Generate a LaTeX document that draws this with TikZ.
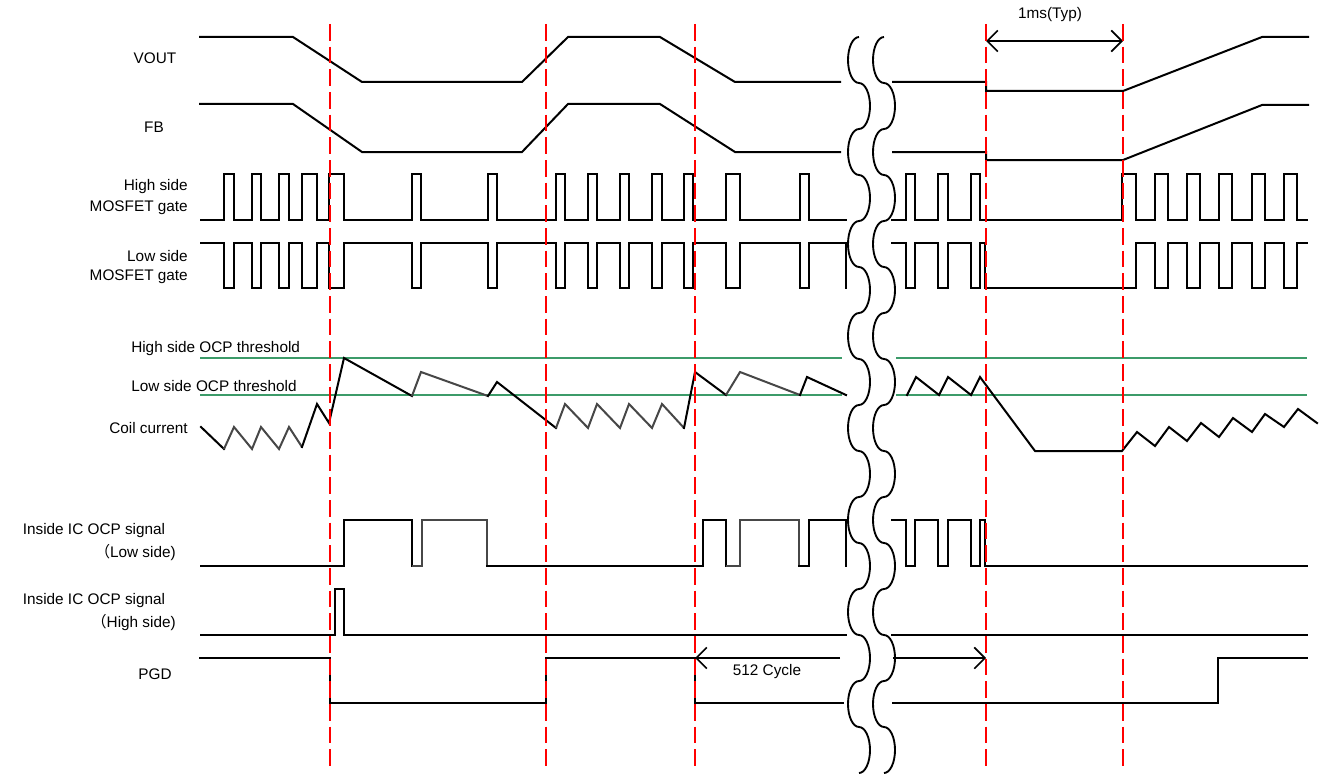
\documentclass[tikz,border=0pt]{standalone}
\usepackage{fontspec}
\setmainfont{Liberation Sans}
\newfontfamily\jpfont{Noto Sans CJK JP}
\usetikzlibrary{arrows.meta}
\definecolor{thrgreen}{RGB}{60,155,105}
\begin{document}
\begin{tikzpicture}[x=0.75pt,y=-0.75pt,
  sig/.style={line width=1.5pt, line join=miter, line cap=rect},
  gsig/.style={line width=1.5pt, draw=black!72, line join=miter},
  thr/.style={line width=1.5pt, draw=thrgreen},
  redline/.style={draw=red, line width=1.5pt, dash pattern=on 12.5pt off 4.5pt},
  wave/.style={line width=1.4pt},
  lbl/.style={font=\fontsize{11.5}{13}\selectfont, inner sep=0pt},
  barb/.style={line width=1.2pt, arrows={-Straight Barb[length=8pt,width=16pt,line width=1.2pt]}},
  dbarb/.style={line width=1.2pt, arrows={Straight Barb[length=8pt,width=16pt,line width=1.2pt]-Straight Barb[length=8pt,width=16pt,line width=1.2pt]}}
]
\useasboundingbox (0,0) rectangle (1325,774);

% ---------- labels ----------
\node[lbl] (lvout) at (155,58) {VOUT};
\node[lbl] (lfb) at (154,127) {FB};
\node[lbl, anchor=east] (lhs1) at (188,187) {High side};
\node[lbl, anchor=east] (lhs2) at (188,208) {MOSFET gate};
\node[lbl, anchor=east] (lls1) at (188,256) {Low side};
\node[lbl, anchor=east] (lls2) at (188,277) {MOSFET gate};
\node[lbl, anchor=west] (lhthr) at (131,349) {High side OCP threshold};
\node[lbl, anchor=west] (llthr) at (131,386) {Low side OCP threshold};
\node[lbl, anchor=east] (lcoil) at (188,428) {Coil current};
\node[lbl] (locl1) at (94,531) {Inside IC OCP signal};
\node[lbl, anchor=east] (locl2) at (176,553) {{\jpfont （}Low side)};
\node[lbl] (loch1) at (94,601) {Inside IC OCP signal};
\node[lbl, anchor=east] (loch2) at (176,623) {{\jpfont （}High side)};
\node[lbl] (lpgd) at (155,674) {PGD};
\node[lbl] (l512) at (767,672) {512 Cycle};
\node[lbl] (l1ms) at (1050,15) {1ms(Typ)};

% ---------- VOUT / FB ----------
\draw[sig] (200,37) -- (293,37) -- (362,82) -- (522,82) -- (568,37) -- (660,37) -- (735,82) -- (840,82);
\draw[sig] (893,82) -- (986,82) -- (986,91) -- (1123,91) -- (1262,37) -- (1308,37);
\draw[sig] (200,104) -- (293,104) -- (362,152) -- (522,152) -- (568,104) -- (660,104) -- (735,152) -- (840,152);
\draw[sig] (893,152) -- (986,152) -- (986,160) -- (1123,160) -- (1262,105) -- (1308,105);

% ---------- High side gate ----------
\draw[sig] (201,220) \foreach \a/\b in {224/234,252/261,279/289,302/317,329/344,412/421,488/497,556/565,588/597,620/629,652/662,684/693,726/740,800/809}
  { -- (\a,220) -- (\a,174) -- (\b,174) -- (\b,220) } -- (846,220);
\draw[sig] (892,220) \foreach \a/\b in {906/915,938/948,971/980,1122/1136,1155/1168,1187/1200,1219/1232,1252/1265,1284/1297}
  { -- (\a,220) -- (\a,174) -- (\b,174) -- (\b,220) } -- (1307,220);

% ---------- Low side gate ----------
\draw[sig] (201,243) \foreach \a/\b in {224/234,252/261,279/289,302/317,329/344,412/421,488/497,556/565,588/597,620/629,652/662,684/693,726/740,800/809}
  { -- (\a,243) -- (\a,288) -- (\b,288) -- (\b,243) } -- (846,243) -- (846,288);
\draw[sig] (892,243) \foreach \a/\b in {906/915,938/948,971/980}
  { -- (\a,243) -- (\a,288) -- (\b,288) -- (\b,243) } -- (985,243) -- (985,288) -- (1136,288) -- (1136,243)
  \foreach \a/\b in {1155/1168,1187/1200,1219/1232,1252/1265,1284/1297}
  { -- (\a,243) -- (\a,288) -- (\b,288) -- (\b,243) } -- (1307,243);

% ---------- thresholds ----------
\draw[thr] (200,358) -- (842,358);
\draw[thr] (200,395) -- (842,395);
\draw[thr] (896,358) -- (1307,358);
\draw[thr] (896,395) -- (1307,395);

% ---------- coil current ----------
\draw[sig] (201,427) -- (224,449);
\draw[gsig] (224,449) -- (234,427) -- (252,449) -- (261,427) -- (279,449) -- (289,427) -- (302,447);
\draw[sig] (302,447) -- (317,404) -- (329,423) -- (344,358) -- (412,396);
\draw[gsig] (412,396) -- (421,372) -- (488,396);
\draw[sig] (488,396) -- (497,382) -- (556,428);
\draw[gsig] (556,428) -- (565,404) -- (588,428) -- (597,404) -- (620,428) -- (629,404) -- (652,428) -- (662,404) -- (684,428);
\draw[sig] (684,428) -- (695,372) -- (726,395);
\draw[gsig] (726,395) -- (740,372) -- (800,395);
\draw[sig] (800,395) -- (807,377) -- (846,395);
\draw[sig] (907,395) -- (916,377) -- (939,395) -- (948,377) -- (971,395) -- (980,377) -- (1035,451) -- (1122,451) -- (1137,432) -- (1155,446) -- (1169,427) -- (1187,441) -- (1201,423) -- (1219,437) -- (1233,418) -- (1252,432) -- (1265,414) -- (1284,427) -- (1298,409) -- (1317,423);

% ---------- OCP low side ----------
\draw[sig] (201,566) -- (344,566) -- (344,520) -- (412,520) -- (412,566);
\draw[gsig] (412,566) -- (422,566) -- (422,520) -- (487,520) -- (487,566);
\draw[sig] (487,566) -- (703,566) -- (703,520) -- (726,520) -- (726,566);
\draw[gsig] (726,566) -- (740,566) -- (740,520) -- (799,520) -- (799,566);
\draw[sig] (799,566) -- (809,566) -- (809,520) -- (846,520) -- (846,566);
\draw[sig] (892,520) \foreach \a/\b in {906/915,938/948,971/980}
  { -- (\a,520) -- (\a,566) -- (\b,566) -- (\b,520) } -- (985,520) -- (985,566) -- (1307,566);

% ---------- OCP high side ----------
\draw[sig] (201,635) -- (335,635) -- (335,589) -- (344,589) -- (344,635) -- (846,635);
\draw[sig] (892,635) -- (1307,635);

% ---------- PGD ----------
\draw[sig] (200,658) -- (330,658) -- (330,703) -- (546,703) -- (546,658) -- (695,658);
\draw[sig] (695,658) -- (695,703) -- (843,703);
\draw[sig] (893,703) -- (1218,703) -- (1218,658) -- (1307,658);
\coordinate (p512a) at (840,658);
\coordinate (p512b) at (695,658);
\draw[barb] (p512a) -- (p512b);
\coordinate (p2a) at (893,658);
\coordinate (p2b) at (986,658);
\draw[barb] (p2a) -- (p2b);
\coordinate (ms1) at (986,41);
\coordinate (ms2) at (1123,41);
\draw[dbarb] (ms1) -- (ms2);

% ---------- break squiggles ----------
\foreach \xo in {859,884}{
  \draw[wave] (\xo,37) \foreach \i in {1,...,8}
    { arc[start angle=-90,end angle=-270,x radius=11,y radius=23]
      arc[start angle=-90,end angle=90,x radius=11,y radius=23] };
}

% ---------- red markers ----------
\foreach \x in {330,546,695,986,1123}
  \draw[redline] (\x,24) -- (\x,772);
\end{tikzpicture}
\end{document}
